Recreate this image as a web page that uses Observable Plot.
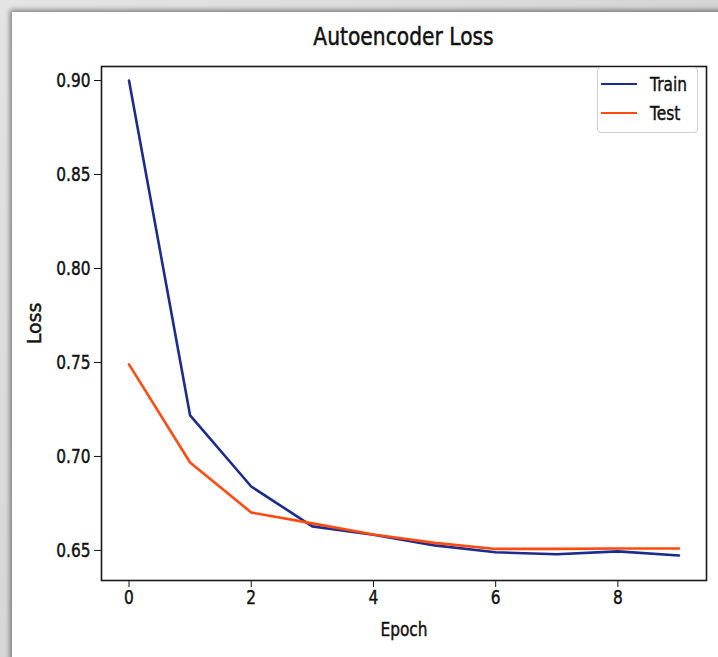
<!DOCTYPE html>
<html>
<head>
<meta charset="utf-8">
<script src="https://cdn.jsdelivr.net/npm/d3@7"></script>
<script src="https://cdn.jsdelivr.net/npm/@observablehq/plot@0.6"></script>
<style>
  html, body { margin: 0; padding: 0; }
  body { width: 718px; height: 657px; overflow: hidden; position: relative;
         background: linear-gradient(135deg, #e4e4e4, #c8c8c8); font-family: "DejaVu Sans", sans-serif; }
  #panel { position: absolute; left: 12px; top: 12px; width: 760px; height: 700px; background: #fff;
           box-shadow: -2px -2px 5px rgba(0,0,0,0.45); }
  #chart { position: absolute; left: 0; top: 0; }
  #chart svg { background: transparent !important; }
  #chart svg text { stroke: #111; stroke-width: 0.45px; }
  #title { position: absolute; left: 0; width: 807px; top: 22px; text-align: center; font-size: 25px; color: #111;
           transform: scaleX(0.81); transform-origin: 403.5px 0; -webkit-text-stroke: 0.5px #111; }
  #legend { position: absolute; left: 597px; top: 67px; width: 99px; height: 64px; border: 1px solid #d0d0d0;
            border-radius: 4px; background: rgba(255,255,255,0.85); font-size: 19px; color: #111; }
  .li { position: absolute; left: 3px; height: 22px; display: flex; align-items: center; }
  .sw { width: 36px; height: 2.6px; margin-right: 13px; flex: none; }
  .lt { display: inline-block; transform: scaleX(0.81); transform-origin: 0 50%; white-space: nowrap;
        -webkit-text-stroke: 0.45px #111; }
</style>
</head>
<body>
<div id="panel"></div>
<div id="chart"></div>
<div id="title">Autoencoder Loss</div>
<div id="legend"></div>
<script>
const epochs = [0, 1, 2, 3, 4, 5, 6, 7, 8, 9];
const trainLoss = [0.900, 0.7218, 0.684, 0.6628, 0.6583, 0.6527, 0.6490, 0.6480, 0.6495, 0.6473];
const testLoss = [0.749, 0.6968, 0.6702, 0.6644, 0.6585, 0.6540, 0.6508, 0.6508, 0.6510, 0.6510];
const seriesNames = ["Train", "Test"];
const seriesColors = ["#1c2c8c", "#ff4a10"];
const xTicks = [0, 2, 4, 6, 8];
const yTicks = [0.65, 0.70, 0.75, 0.80, 0.85, 0.90];

const rows = [];
epochs.forEach((e, i) => {
  rows.push({epoch: e, loss: trainLoss[i], series: "Train"});
  rows.push({epoch: e, loss: testLoss[i], series: "Test"});
});

const chart = Plot.plot({
  width: 718,
  height: 657,
  marginLeft: 101,
  marginRight: 12,
  marginTop: 66,
  marginBottom: 77,
  style: {background: "transparent", fontFamily: "DejaVu Sans, sans-serif", fontSize: "19px", color: "#111"},
  x: {domain: [-0.45, 9.45]},
  y: {domain: [0.634, 0.90745]},
  color: {domain: seriesNames, range: seriesColors},
  marks: [
    Plot.axisX({ticks: xTicks, tickSize: 7, tickPadding: 3, tickFormat: d3.format("d"),
      label: "Epoch", labelAnchor: "center", labelArrow: "none", labelOffset: 55, fontSize: 19}),
    Plot.axisY({ticks: yTicks, tickSize: 7, tickPadding: 4, tickFormat: d3.format(".2f"),
      label: "Loss", labelAnchor: "center", labelArrow: "none", labelOffset: 74, fontSize: 19}),
    Plot.line(rows, {x: "epoch", y: "loss", z: "series", stroke: "series", strokeWidth: 2.6}),
    Plot.frame({stroke: "#1a1a1a", strokeWidth: 1.6})
  ]
});
document.getElementById("chart").appendChild(chart);

// condense glyphs horizontally (the reference is squeezed) without moving anchors
chart.querySelectorAll("text").forEach(t => {
  const tr = t.getAttribute("transform") || "";
  if (/rotate/.test(tr)) return;
  const len = t.getComputedTextLength();
  if (len > 0) {
    t.setAttribute("textLength", (len * 0.81).toFixed(2));
    t.setAttribute("lengthAdjust", "spacingAndGlyphs");
  }
});

const legend = document.getElementById("legend");
seriesNames.forEach((name, i) => {
  const item = document.createElement("div");
  item.className = "li";
  item.style.top = (5 + i * 29) + "px";
  const sw = document.createElement("div");
  sw.className = "sw";
  sw.style.background = seriesColors[i];
  item.appendChild(sw);
  const t = document.createElement("span");
  t.className = "lt";
  t.textContent = name;
  item.appendChild(t);
  legend.appendChild(item);
});
</script>
</body>
</html>
